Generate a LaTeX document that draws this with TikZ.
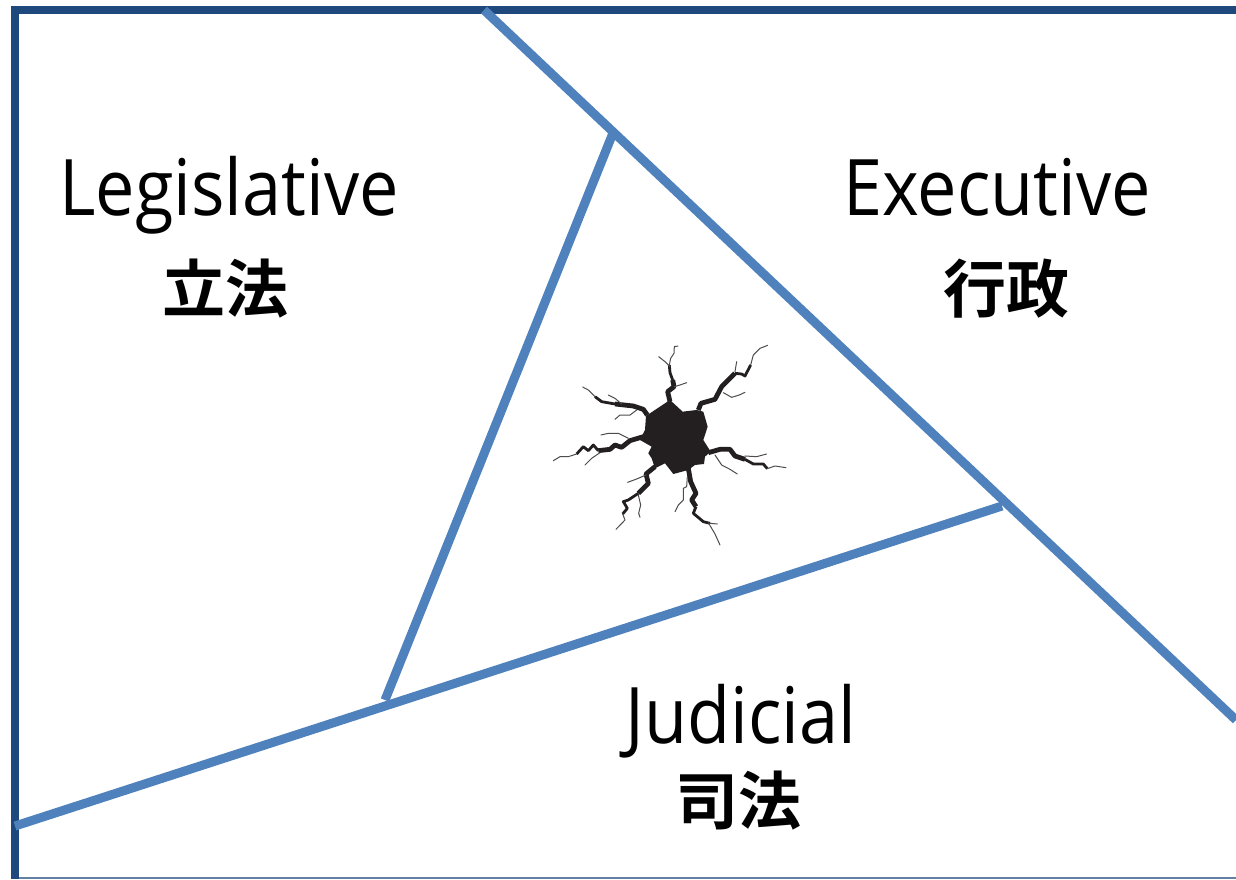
\documentclass[tikz,border=0pt]{standalone}
\usepackage{fontspec}
\setmainfont{Open Sans}
\newfontfamily\labelfont{Open Sans}[FakeStretch=0.9]
\newfontfamily\cjkfont{Noto Sans CJK JP}[BoldFont={Noto Sans CJK JP Bold}]
\definecolor{framecolor}{HTML}{1F497D}
\definecolor{linecolor}{HTML}{4F81BD}
\definecolor{crackcolor}{HTML}{231F20}

\begin{document}
\begin{tikzpicture}[
            x=1pt, y=-1pt,
            frameline/.style={draw=framecolor, line width=7.5pt},
            wallline/.style={draw=linecolor, line width=9pt},
            branchname/.style={anchor=base, inner sep=0pt, font=\labelfont\fontsize{78}{80}\selectfont},
            branchzh/.style={anchor=center, inner sep=0pt, font=\cjkfont\bfseries\fontsize{63}{65}\selectfont},
            crackthick/.style={draw=crackcolor, line width=4.8pt, line join=round},
            crackmid/.style={draw=crackcolor, line width=2.8pt, line join=round},
            crackthin/.style={draw=crackcolor!80, line width=1pt, line join=round, line cap=round}
        ]
            \useasboundingbox (0,0) rectangle (1236,879);

            % corners and junctions
            \coordinate (framebl) at (15,879);
            \coordinate (frametl) at (15,10);
            \coordinate (frametr) at (1236,10);
            \coordinate (bottoml) at (18,878);
            \coordinate (bottomr) at (1236,878);
            \coordinate (exectop) at (484,10);
            \coordinate (execend) at (1236,720);
            \coordinate (legtop) at (613,133);
            \coordinate (legbot) at (385,700);
            \coordinate (judl) at (15,826);
            \coordinate (judr) at (1002,506);

            \draw[framecolor!70, line width=1.5pt] (bottoml) -- (bottomr);
            \draw[frameline] (framebl) -- (frametl) -- (frametr);
            \draw[wallline] (exectop) -- (execend);
            \draw[wallline] (legtop) -- (legbot);
            \draw[wallline] (judl) -- (judr);

            \node[branchname] (legislative) at (229,215) {Legislative};
            \node[branchzh] (legislativezh) at (225,289) {立法};
            \node[branchname] (executive) at (997,215) {Executive};
            \node[branchzh] (executivezh) at (1006,289) {行政};
            \node[branchname] (judicial) at (741,743) {Judicial};
            \node[branchzh] (judicialzh) at (738,801) {司法};

            % the crack, in a frame of its own
            \begin{scope}[shift={(540,330)}, x=.3333pt, y=-.3333pt]
                \fill[crackcolor] (318,258) -- (345,240) -- (390,210) -- (428,245) -- (470,240) -- (490,245)
                    -- (503,290) -- (490,330) -- (512,365) -- (495,380) -- (492,402) -- (465,405) -- (445,420)
                    -- (400,432) -- (375,400) -- (345,415) -- (335,385) -- (325,370) -- (335,350) -- (300,330)
                    -- (315,300) -- cycle;
                % top
                \draw[crackthick] (390,215) -- (383,185) -- (402,170) -- (398,150);
                \draw[crackmid] (398,150) -- (390,128) -- (388,105);
                \draw[crackthin] (388,105) -- (392,85) -- (402,70) -- (403,50) -- (414,48);
                \draw[crackthin] (390,110) -- (375,95) -- (356,80);
                \draw[crackthin] (403,170) -- (420,165) -- (440,158);
                % top right
                \draw[crackthick] (475,240) -- (483,220) -- (525,208) -- (545,170) -- (585,130);
                \draw[crackmid] (585,130) -- (605,132) -- (615,138) -- (632,105);
                \draw[crackthin] (632,105) -- (640,75) -- (660,55) -- (683,46);
                \draw[crackthin] (585,125) -- (590,95);
                \draw[crackthin] (550,188) -- (575,202) -- (598,195) -- (615,187);
                % left top
                \draw[crackthick] (322,255) -- (310,238) -- (280,228) -- (225,222);
                \draw[crackmid] (225,222) -- (185,215) -- (165,200);
                \draw[crackthin] (165,200) -- (145,180) -- (128,171);
                \draw[crackthin] (245,222) -- (225,205) -- (205,195);
                \draw[crackthin] (290,240) -- (270,255) -- (240,255) -- (225,268);
                % left
                \draw[crackthick] (310,320) -- (270,332) -- (245,352) -- (225,345) -- (210,358) -- (175,362);
                \draw[crackmid] (175,362) -- (160,345) -- (145,362) -- (130,350) -- (110,372);
                \draw[crackthin] (110,372) -- (85,380) -- (60,380) -- (40,392);
                \draw[crackthin] (265,325) -- (235,310) -- (205,310) -- (183,315);
                \draw[crackthin] (180,368) -- (155,385) -- (135,405);
                % bottom left
                \draw[crackthick] (345,410) -- (318,432) -- (325,460) -- (295,490);
                \draw[crackmid] (295,490) -- (265,510) -- (250,515) -- (262,535) -- (248,552);
                \draw[crackthin] (248,552) -- (255,570) -- (228,598);
                \draw[crackthin] (295,495) -- (302,525) -- (296,550) -- (300,562);
                \draw[crackthin] (318,435) -- (290,447) -- (263,457);
                % bottom
                \draw[crackthick] (445,415) -- (452,455) -- (468,490) -- (455,510) -- (468,530);
                \draw[crackmid] (468,530) -- (460,550) -- (490,575) -- (510,580);
                \draw[crackthin] (510,580) -- (532,582);
                \draw[crackthin] (505,578) -- (525,612) -- (540,645);
                \draw[crackthin] (442,440) -- (440,470) -- (430,475) -- (430,510) -- (415,525) -- (405,545);
                % right
                \draw[crackthick] (505,368) -- (540,358) -- (570,358) -- (585,378) -- (615,388);
                \draw[crackmid] (615,388) -- (640,402) -- (670,402) -- (682,416);
                \draw[crackthin] (682,416) -- (705,408) -- (738,413);
                \draw[crackthin] (615,378) -- (650,380) -- (680,372);
                \draw[crackthin] (525,375) -- (545,405) -- (570,418) -- (592,432);
            \end{scope}
        \end{tikzpicture}
\end{document}
